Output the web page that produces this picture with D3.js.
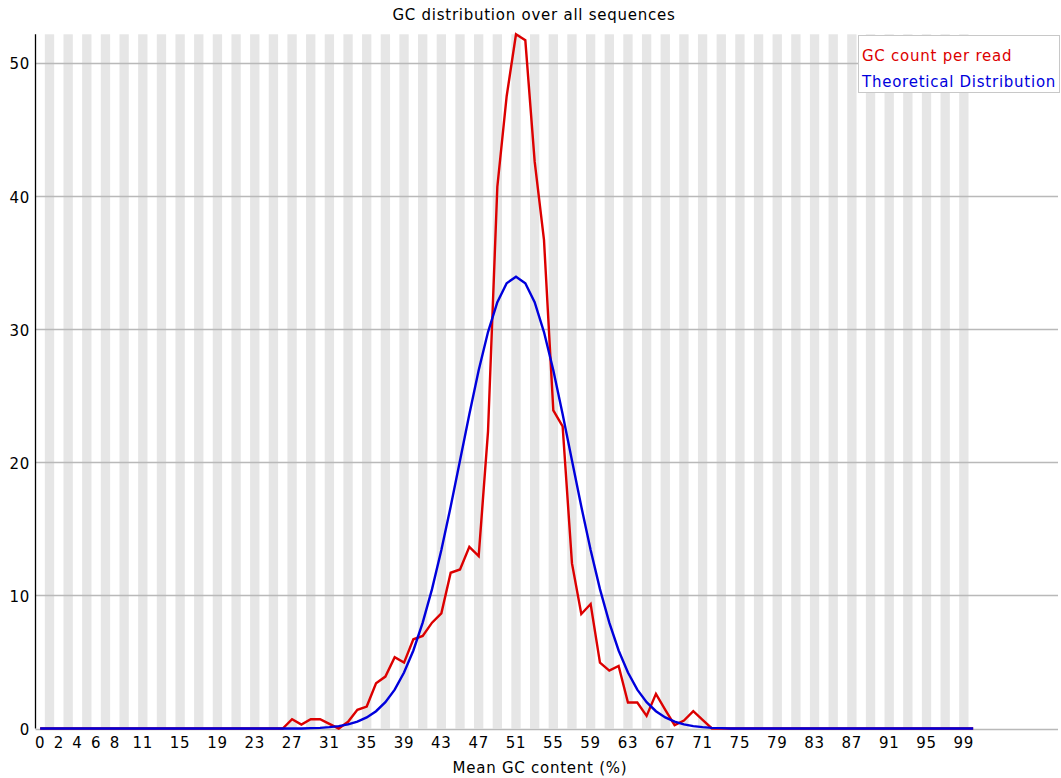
<!DOCTYPE html>
<html>
<head>
<meta charset="utf-8">
<script src="https://cdn.jsdelivr.net/npm/d3@7"></script>
<style>
  html, body { margin: 0; padding: 0; background: #fff; }
  svg { display: block; }
  text { font-family: "DejaVu Sans", sans-serif; font-size: 15px; letter-spacing: 0.75px; }
</style>
</head>
<body>
<svg id="chart" width="1061" height="778"></svg>
<script>
// ---- Data ----
const categories = d3.range(0, 101); // Mean GC content (%) 0..100
const xTickLabels = [0, 2, 4, 6, 8, 11, 15, 19, 23, 27, 31, 35, 39, 43, 47, 51, 55, 59, 63, 67, 71, 75, 79, 83, 87, 91, 95, 99];
const yTicks = [0, 10, 20, 30, 40, 50];

const gcCountPerRead = [
  0, 0, 0, 0, 0, 0, 0, 0, 0, 0,          // 0-9
  0, 0, 0, 0, 0, 0, 0, 0, 0, 0,          // 10-19
  0, 0, 0, 0, 0, 0, 0, 0.7, 0.3, 0.7,    // 20-29
  0.7, 0.35, 0, 0.5, 1.4, 1.65, 3.4, 3.9, 5.35, 4.95,   // 30-39
  6.7, 6.95, 7.95, 8.65, 11.7, 11.95, 13.65, 12.95, 22.3, 40.7, // 40-49
  47.5, 52.15, 51.7, 42.6, 36.7, 23.9, 22.7, 12.4, 8.6, 9.35,   // 50-59
  4.95, 4.35, 4.7, 1.95, 1.95, 0.95, 2.6, 1.4, 0.25, 0.6,       // 60-69
  1.3, 0.65, 0, 0, 0, 0, 0, 0, 0, 0,     // 70-79
  0, 0, 0, 0, 0, 0, 0, 0, 0, 0,          // 80-89
  0, 0, 0, 0, 0, 0, 0, 0, 0, 0,          // 90-99
  0                                      // 100
];

const theoreticalDistribution = [
  0, 0, 0, 0, 0, 0, 0, 0, 0, 0,          // 0-9
  0, 0, 0, 0, 0, 0, 0, 0, 0, 0,          // 10-19
  0, 0, 0, 0, 0, 0, 0, 0, 0, 0.03,       // 20-29
  0.05, 0.1, 0.18, 0.31, 0.51, 0.83, 1.3, 1.98, 2.92, 4.2,      // 30-39
  5.86, 7.95, 10.47, 13.41, 16.67, 20.13, 23.61, 26.91, 29.78, 32.03, // 40-49
  33.45, 33.94, 33.45, 32.03, 29.78, 26.91, 23.61, 20.13, 16.67, 13.41, // 50-59
  10.47, 7.95, 5.86, 4.2, 2.92, 1.98, 1.3, 0.83, 0.51, 0.31,    // 60-69
  0.18, 0.1, 0.05, 0.03, 0, 0, 0, 0, 0, 0, // 70-79
  0, 0, 0, 0, 0, 0, 0, 0, 0, 0,          // 80-89
  0, 0, 0, 0, 0, 0, 0, 0, 0, 0,          // 90-99
  0                                      // 100
];

const seriesNames = ["GC count per read", "Theoretical Distribution"];
const seriesColors = ["rgb(220,0,0)", "rgb(0,0,220)"];
const titleText = "GC distribution over all sequences";
const xAxisTitle = "Mean GC content (%)";

// ---- Layout ----
const W = 1061, H = 778;
const left = 35.5, plotTop = 34.3, bottom = 728.5;
const bandW = 9.33;
const plotRight = left + bandW * categories.length;
const gridRight = 1058;

const svg = d3.select("#chart");

const x = d3.scaleBand().domain(categories).range([left, plotRight]).padding(0);
const yMax = d3.max([d3.max(gcCountPerRead), d3.max(theoreticalDistribution)]);
const y = d3.scaleLinear().domain([0, yMax]).range([bottom, plotTop]);
const cx = c => x(c) + x.bandwidth() / 2;

// alternating bands
svg.append("g").selectAll("rect")
  .data(categories.filter(c => c % 2 === 1))
  .join("rect")
  .attr("x", d => x(d))
  .attr("y", plotTop)
  .attr("width", x.bandwidth())
  .attr("height", bottom - plotTop)
  .attr("fill", "rgb(230,230,230)");

// horizontal grid lines
svg.append("g").selectAll("line")
  .data(yTicks)
  .join("line")
  .attr("x1", left).attr("x2", gridRight)
  .attr("y1", d => Math.round(y(d)) + 0.5).attr("y2", d => Math.round(y(d)) + 0.5)
  .attr("stroke", "rgb(185,185,185)")
  .attr("stroke-width", 1.3);

// y axis line
svg.append("line")
  .attr("x1", left).attr("x2", left)
  .attr("y1", plotTop).attr("y2", bottom)
  .attr("stroke", "#000").attr("stroke-width", 1.3);

// y tick labels
svg.append("g").selectAll("text")
  .data(yTicks)
  .join("text")
  .attr("x", 30)
  .attr("y", d => y(d) + 6.5)
  .attr("text-anchor", "end")
  .attr("fill", "#000")
  .text(d => d);

// x tick labels
svg.append("g").selectAll("text")
  .data(xTickLabels)
  .join("text")
  .attr("x", d => cx(d))
  .attr("y", 748)
  .attr("text-anchor", "middle")
  .attr("fill", "#000")
  .text(d => d);

// lines
const line = d3.line().x((d, i) => cx(categories[i])).y(d => y(d));
[gcCountPerRead, theoreticalDistribution].forEach((s, k) => {
  svg.append("path")
    .datum(s)
    .attr("d", line)
    .attr("fill", "none")
    .attr("stroke", seriesColors[k])
    .attr("stroke-width", 2.4)
    .attr("stroke-linejoin", "miter");
});

// title
svg.append("text")
  .attr("x", 534)
  .attr("y", 20)
  .attr("text-anchor", "middle")
  .attr("fill", "#000")
  .text(titleText);

// x axis title
svg.append("text")
  .attr("x", 540)
  .attr("y", 773)
  .attr("text-anchor", "middle")
  .attr("fill", "#000")
  .text(xAxisTitle);

// legend
const lg = svg.append("g");
lg.append("rect")
  .attr("x", 858.5).attr("y", 35.5)
  .attr("width", 201).attr("height", 57)
  .attr("fill", "#fff")
  .attr("stroke", "rgb(200,200,200)");
seriesNames.forEach((n, k) => {
  lg.append("text")
    .attr("x", 862)
    .attr("y", 61 + k * 26)
    .attr("fill", seriesColors[k])
    .text(n);
});
</script>
</body>
</html>
